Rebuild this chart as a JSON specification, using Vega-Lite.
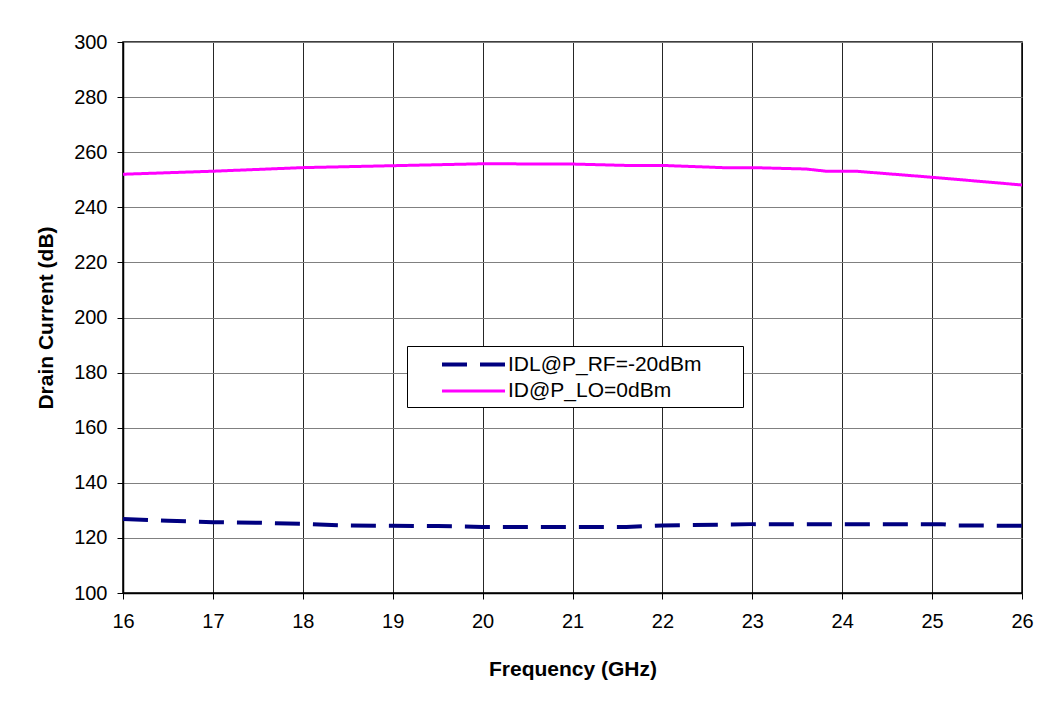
{
  "$schema": "https://vega.github.io/schema/vega-lite/v6.json",
  "width": 899,
  "height": 551,
  "autosize": {"type": "none"},
  "padding": {"left": 123, "top": 42, "right": 36, "bottom": 108},
  "background": "white",
  "config": {
    "font": "Liberation Sans",
    "view": {"stroke": "black", "strokeWidth": 1.5},
    "axis": {
      "domainColor": "black",
      "domainWidth": 1.5,
      "tickColor": "black",
      "tickSize": 6,
      "labelColor": "black",
      "labelFont": "Liberation Sans",
      "titleColor": "black",
      "titleFont": "Liberation Sans",
      "titleFontWeight": "bold"
    }
  },
  "data": {
    "values": [
      {"freq": 16.0, "current": 126.9, "series": "IDL@P_RF=-20dBm"},
      {"freq": 16.5, "current": 126.2, "series": "IDL@P_RF=-20dBm"},
      {"freq": 17.0, "current": 125.7, "series": "IDL@P_RF=-20dBm"},
      {"freq": 17.5, "current": 125.5, "series": "IDL@P_RF=-20dBm"},
      {"freq": 18.0, "current": 125.1, "series": "IDL@P_RF=-20dBm"},
      {"freq": 18.5, "current": 124.5, "series": "IDL@P_RF=-20dBm"},
      {"freq": 19.0, "current": 124.4, "series": "IDL@P_RF=-20dBm"},
      {"freq": 19.5, "current": 124.3, "series": "IDL@P_RF=-20dBm"},
      {"freq": 20.0, "current": 124.0, "series": "IDL@P_RF=-20dBm"},
      {"freq": 21.0, "current": 124.0, "series": "IDL@P_RF=-20dBm"},
      {"freq": 21.6, "current": 124.0, "series": "IDL@P_RF=-20dBm"},
      {"freq": 22.0, "current": 124.5, "series": "IDL@P_RF=-20dBm"},
      {"freq": 23.0, "current": 125.0, "series": "IDL@P_RF=-20dBm"},
      {"freq": 24.0, "current": 125.0, "series": "IDL@P_RF=-20dBm"},
      {"freq": 25.1, "current": 125.0, "series": "IDL@P_RF=-20dBm"},
      {"freq": 25.25, "current": 124.5, "series": "IDL@P_RF=-20dBm"},
      {"freq": 26.0, "current": 124.4, "series": "IDL@P_RF=-20dBm"},
      {"freq": 16.0, "current": 252.0, "series": "ID@P_LO=0dBm"},
      {"freq": 17.0, "current": 253.1, "series": "ID@P_LO=0dBm"},
      {"freq": 18.0, "current": 254.4, "series": "ID@P_LO=0dBm"},
      {"freq": 19.0, "current": 255.1, "series": "ID@P_LO=0dBm"},
      {"freq": 20.0, "current": 255.8, "series": "ID@P_LO=0dBm"},
      {"freq": 21.0, "current": 255.7, "series": "ID@P_LO=0dBm"},
      {"freq": 21.6, "current": 255.2, "series": "ID@P_LO=0dBm"},
      {"freq": 22.0, "current": 255.2, "series": "ID@P_LO=0dBm"},
      {"freq": 22.67, "current": 254.4, "series": "ID@P_LO=0dBm"},
      {"freq": 23.0, "current": 254.4, "series": "ID@P_LO=0dBm"},
      {"freq": 23.6, "current": 253.9, "series": "ID@P_LO=0dBm"},
      {"freq": 23.82, "current": 253.1, "series": "ID@P_LO=0dBm"},
      {"freq": 24.15, "current": 253.1, "series": "ID@P_LO=0dBm"},
      {"freq": 25.0, "current": 250.9, "series": "ID@P_LO=0dBm"},
      {"freq": 26.0, "current": 248.1, "series": "ID@P_LO=0dBm"}
    ]
  },
  "mark": {"type": "line", "strokeCap": "butt"},
  "encoding": {
    "x": {
      "field": "freq",
      "type": "quantitative",
      "scale": {"domain": [16, 26], "nice": false, "zero": false},
      "axis": {
        "title": "Frequency (GHz)",
        "values": [16, 17, 18, 19, 20, 21, 22, 23, 24, 25, 26],
        "grid": true,
        "gridColor": "black",
        "gridOpacity": 0.85,
        "labelFontSize": 20,
        "labelPadding": 12,
        "labelFlush": false,
        "labelBound": false,
        "labelOverlap": false,
        "titleFontSize": 21,
        "titlePadding": 27
      }
    },
    "y": {
      "field": "current",
      "type": "quantitative",
      "scale": {"domain": [100, 300], "nice": false, "zero": false},
      "axis": {
        "title": "Drain Current (dB)",
        "values": [100, 120, 140, 160, 180, 200, 220, 240, 260, 280, 300],
        "grid": true,
        "gridColor": "#808080",
        "labelFontSize": 20,
        "labelPadding": 10,
        "labelOverlap": false,
        "titleFontSize": 21,
        "titlePadding": 17
      }
    },
    "color": {
      "field": "series",
      "type": "nominal",
      "scale": {
        "domain": ["IDL@P_RF=-20dBm", "ID@P_LO=0dBm"],
        "range": ["#000080", "#FF00FF"]
      },
      "legend": {
        "title": null,
        "orient": "none",
        "legendX": 284,
        "legendY": 304,
        "symbolType": "M-3,0H3",
        "symbolSize": 441,
        "symbolStrokeWidth": 4,
        "symbolOffset": 48,
        "labelFontSize": 21,
        "labelColor": "black",
        "labelOffset": 22,
        "labelLimit": 0,
        "padding": 6,
        "rowPadding": 4,
        "strokeColor": "black",
        "fillColor": "white",
        "labelExpr": "datum.label + '\u00a0\u00a0\u00a0\u00a0\u00a0\u00a0\u200b'"
      }
    },
    "strokeDash": {
      "field": "series",
      "type": "nominal",
      "scale": {
        "domain": ["IDL@P_RF=-20dBm", "ID@P_LO=0dBm"],
        "range": [[25, 13], [1, 0]]
      },
      "legend": null
    },
    "strokeWidth": {
      "field": "series",
      "type": "nominal",
      "scale": {
        "domain": ["IDL@P_RF=-20dBm", "ID@P_LO=0dBm"],
        "range": [4, 3]
      },
      "legend": null
    }
  }
}
